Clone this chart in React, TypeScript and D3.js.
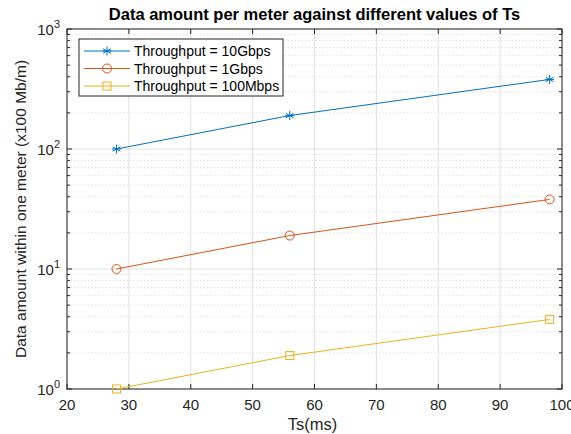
import React, { useRef, useEffect } from "react";
import * as d3 from "d3";

const tsValues = [28, 56, 98];
const series10G = [100, 190, 380];
const series1G = [10, 19, 38];
const series100M = [1, 1.9, 3.8];
const seriesNames = ["Throughput = 10Gbps", "Throughput = 1Gbps", "Throughput = 100Mbps"];
const seriesColors = ["#0072BD", "#D95319", "#EDB120"];
const markers = ["star", "circle", "square"];
const xTicks = [20, 30, 40, 50, 60, 70, 80, 90, 100];
const yDecades = [0, 1, 2, 3];

const W = 571, H = 434;
const m = { left: 67, right: 9, top: 29, bottom: 45 };

export default function App() {
  const svgRef = useRef<SVGSVGElement>(null);

  useEffect(() => {
    const svg = d3.select(svgRef.current);
    svg.selectAll("*").remove();
    const font = "'Liberation Sans', Arial, sans-serif";

    const x = d3.scaleLinear().domain([20, 100]).range([m.left, W - m.right]);
    const y = d3.scaleLog().domain([1, 1000]).range([H - m.bottom, m.top]);
    const x0 = m.left, x1 = W - m.right, y0 = H - m.bottom, y1 = m.top;

    svg.append("rect").attr("width", W).attr("height", H).attr("fill", "#fff");

    const grid = svg.append("g");
    // minor y grid (dotted)
    yDecades.slice(0, 3).forEach(d => {
      for (let k = 2; k <= 9; k++) {
        const v = k * Math.pow(10, d);
        grid.append("line").attr("x1", x0).attr("x2", x1).attr("y1", y(v)).attr("y2", y(v))
          .attr("stroke", "#e3e3e3").attr("stroke-dasharray", "1.5,2");
      }
    });
    // major grid
    xTicks.forEach(t => {
      grid.append("line").attr("x1", x(t)).attr("x2", x(t)).attr("y1", y0).attr("y2", y1)
        .attr("stroke", "#e0e0e0");
    });
    yDecades.forEach(d => {
      const v = Math.pow(10, d);
      grid.append("line").attr("x1", x0).attr("x2", x1).attr("y1", y(v)).attr("y2", y(v))
        .attr("stroke", "#e0e0e0");
    });

    // ticks
    const ticks = svg.append("g").attr("stroke", "#262626");
    xTicks.forEach(t => {
      ticks.append("line").attr("x1", x(t)).attr("x2", x(t)).attr("y1", y0).attr("y2", y0 - 5);
      ticks.append("line").attr("x1", x(t)).attr("x2", x(t)).attr("y1", y1).attr("y2", y1 + 5);
    });
    yDecades.forEach(d => {
      const v = Math.pow(10, d);
      ticks.append("line").attr("x1", x0).attr("x2", x0 + 5).attr("y1", y(v)).attr("y2", y(v));
      ticks.append("line").attr("x1", x1).attr("x2", x1 - 5).attr("y1", y(v)).attr("y2", y(v));
      if (d < 3) {
        for (let k = 2; k <= 9; k++) {
          const vv = k * v;
          ticks.append("line").attr("x1", x0).attr("x2", x0 + 3).attr("y1", y(vv)).attr("y2", y(vv));
          ticks.append("line").attr("x1", x1).attr("x2", x1 - 3).attr("y1", y(vv)).attr("y2", y(vv));
        }
      }
    });

    // axis box
    svg.append("rect").attr("x", x0).attr("y", y1).attr("width", x1 - x0).attr("height", y0 - y1)
      .attr("fill", "none").attr("stroke", "#262626").attr("stroke-width", 1);

    // tick labels
    xTicks.forEach(t => {
      svg.append("text").attr("x", x(t)).attr("y", y0 + 21).attr("text-anchor", "middle")
        .attr("font-family", font).attr("font-size", 15).attr("fill", "#262626").text(t);
    });
    yDecades.forEach(d => {
      const t = svg.append("text").attr("x", x0 - 7).attr("y", y(Math.pow(10, d)) + 6)
        .attr("text-anchor", "end").attr("font-family", font).attr("font-size", 15).attr("fill", "#262626");
      t.append("tspan").text("10");
      t.append("tspan").attr("dy", -7).attr("font-size", 11).text(d);
    });

    // title & labels
    svg.append("text").attr("x", (x0 + x1) / 2).attr("y", 20).attr("text-anchor", "middle")
      .attr("font-family", font).attr("font-size", 16.5).attr("font-weight", "bold").attr("fill", "#000")
      .text("Data amount per meter against different values of Ts");
    svg.append("text").attr("x", (x0 + x1) / 2 - 2).attr("y", H - 4).attr("text-anchor", "middle")
      .attr("font-family", font).attr("font-size", 16.5).attr("fill", "#262626").text("Ts(ms)");
    svg.append("text").attr("transform", `translate(26,${(y0 + y1) / 2}) rotate(-90)`)
      .attr("text-anchor", "middle").attr("font-family", font).attr("font-size", 15.5).attr("fill", "#262626")
      .text("Data amount within one meter (x100 Mb/m)");

    const drawMarker = (g: any, kind: string, cx: number, cy: number, color: string) => {
      if (kind === "circle") {
        g.append("circle").attr("cx", cx).attr("cy", cy).attr("r", 4.5).attr("fill", "none").attr("stroke", color);
      } else if (kind === "square") {
        g.append("rect").attr("x", cx - 4).attr("y", cy - 4).attr("width", 8).attr("height", 8)
          .attr("fill", "none").attr("stroke", color);
      } else {
        const r = 4.5;
        [0, 60, 120].forEach(a => {
          const rad = (a * Math.PI) / 180;
          g.append("line").attr("x1", cx - r * Math.sin(rad)).attr("y1", cy - r * Math.cos(rad))
            .attr("x2", cx + r * Math.sin(rad)).attr("y2", cy + r * Math.cos(rad)).attr("stroke", color);
        });
        g.append("line").attr("x1", cx - r).attr("x2", cx + r).attr("y1", cy).attr("y2", cy).attr("stroke", color);
      }
    };

    const allSeries = [series10G, series1G, series100M];
    const line = d3.line<number>().x((_, i) => x(tsValues[i])).y(d => y(d));
    allSeries.forEach((s, si) => {
      const g = svg.append("g");
      g.append("path").datum(s).attr("d", line).attr("fill", "none")
        .attr("stroke", seriesColors[si]).attr("stroke-width", 1);
      s.forEach((v, i) => drawMarker(g, markers[si], x(tsValues[i]), y(v), seriesColors[si]));
    });

    // legend
    const lg = svg.append("g");
    lg.append("rect").attr("x", 79).attr("y", 39).attr("width", 204).attr("height", 57)
      .attr("fill", "#fff").attr("stroke", "#262626");
    seriesNames.forEach((name, i) => {
      const ly = 51 + i * 17.5;
      lg.append("line").attr("x1", 84).attr("x2", 130).attr("y1", ly).attr("y2", ly)
        .attr("stroke", seriesColors[i]);
      drawMarker(lg, markers[i], 107, ly, seriesColors[i]);
      lg.append("text").attr("x", 134).attr("y", ly + 5).attr("font-family", font)
        .attr("font-size", 14).attr("fill", "#000").text(name);
    });
  }, []);

  return (
    <svg ref={svgRef} width={W} height={H}
      style={{ position: "absolute", left: 0, top: 0, display: "block" }} />
  );
}
